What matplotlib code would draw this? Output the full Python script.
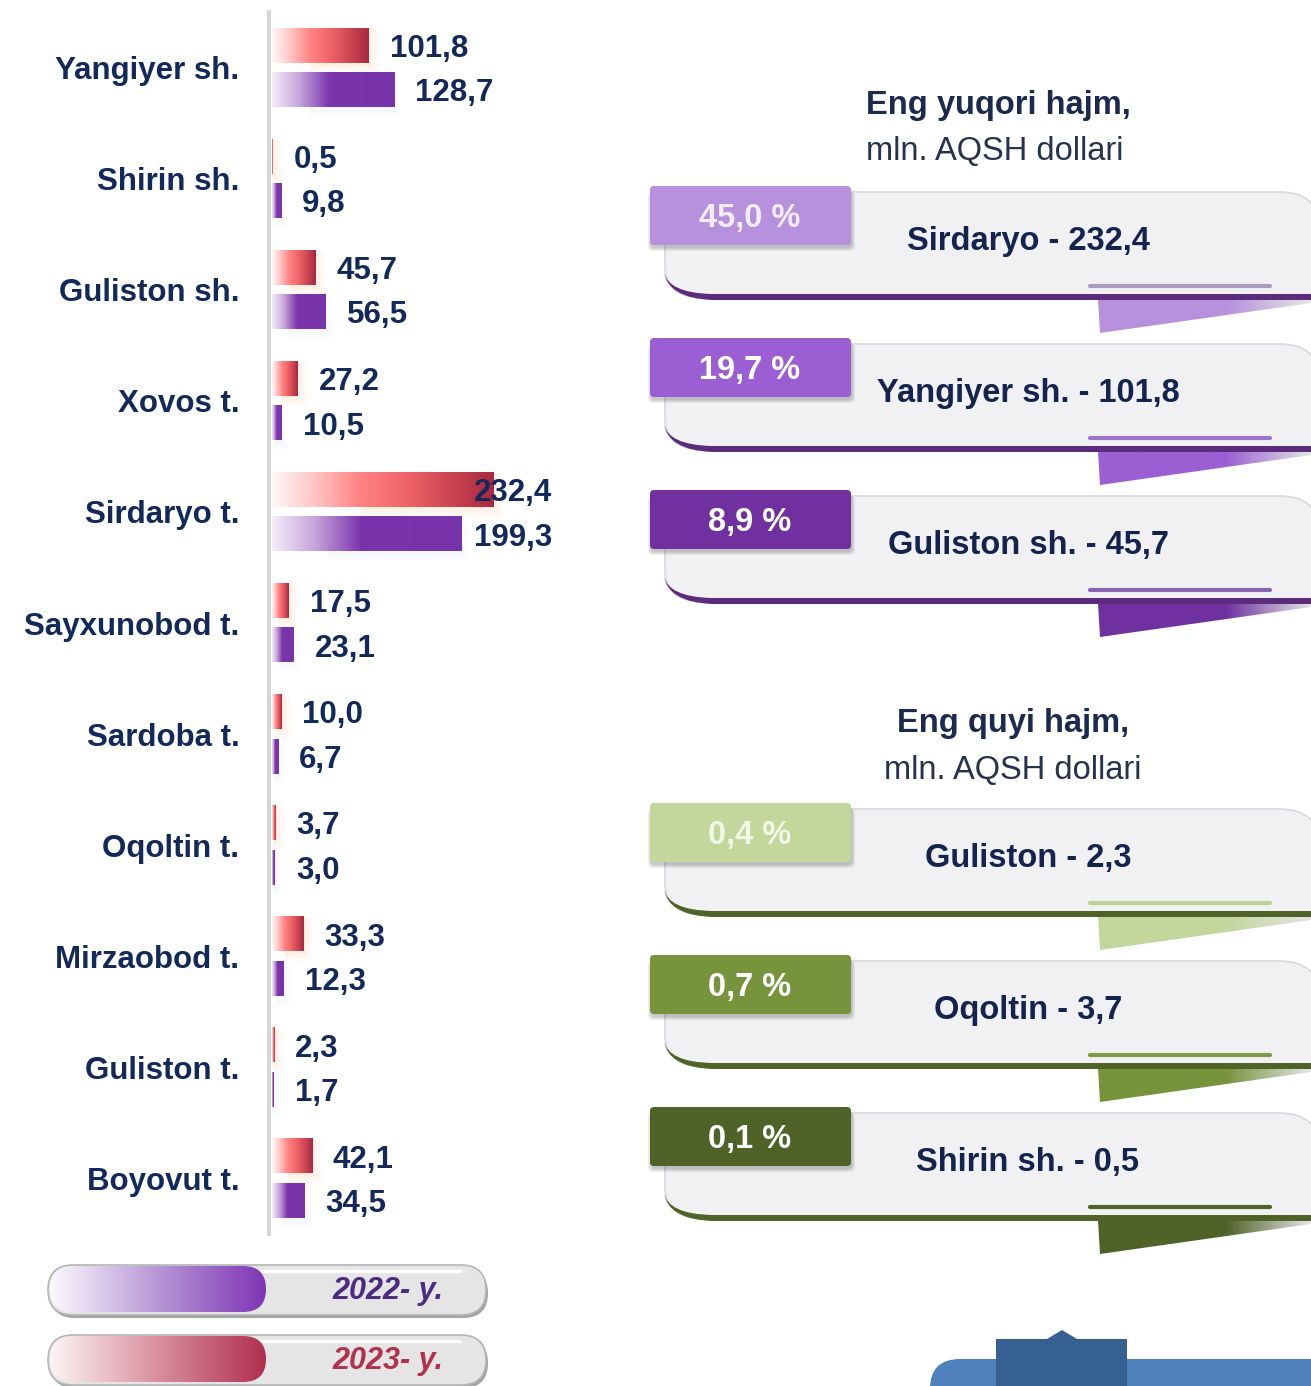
import numpy as np
import matplotlib
matplotlib.use("Agg")
import matplotlib.pyplot as plt
from matplotlib.colors import LinearSegmentedColormap
from matplotlib.patches import FancyBboxPatch, Polygon, PathPatch, Rectangle
from matplotlib.path import Path

plt.rcParams['font.family'] = ['Liberation Sans', 'DejaVu Sans']

# ---- data -------------------------------------------------------------
districts = ["Yangiyer sh.", "Shirin sh.", "Guliston sh.", "Xovos t.", "Sirdaryo t.",
             "Sayxunobod t.", "Sardoba t.", "Oqoltin t.", "Mirzaobod t.",
             "Guliston t.", "Boyovut t."]
vol_2023 = [101.8, 0.5, 45.7, 27.2, 232.4, 17.5, 10.0, 3.7, 33.3, 2.3, 42.1]
vol_2022 = [128.7, 9.8, 56.5, 10.5, 199.3, 23.1, 6.7, 3.0, 12.3, 1.7, 34.5]

top_names = ["Sirdaryo", "Yangiyer sh.", "Guliston sh."]
top_values = [232.4, 101.8, 45.7]
top_shares = [45.0, 19.7, 8.9]

low_names = ["Guliston", "Oqoltin", "Shirin sh."]
low_values = [2.3, 3.7, 0.5]
low_shares = [0.4, 0.7, 0.1]

legend_years = ["2022- y.", "2023- y."]

NAVY = "#13295c"
W, H = 1311, 1386
VA = "center_baseline"


def fmt(v):
    return f"{v:.1f}".replace(".", ",")


fig = plt.figure(figsize=(W / 100, H / 100), dpi=100)
fig.patch.set_facecolor("white")

# background canvas in pixel units for the decorative panels
bg = fig.add_axes([0, 0, 1, 1])
bg.set_xlim(0, W)
bg.set_ylim(H, 0)
bg.axis("off")
bg.set_zorder(0)

# ---- bar chart ----------------------------------------------------------
ax = fig.add_axes([272 / W, 1 - 1234 / H, 350 / W, 1222 / H])
ax.set_zorder(2)
ax.patch.set_visible(False)
for s in ("top", "right", "bottom"):
    ax.spines[s].set_visible(False)
ax.spines["left"].set_color("#d6d6d6")
ax.spines["left"].set_linewidth(3)
ax.spines["left"].set_position(("outward", 2))

red_cmap = LinearSegmentedColormap.from_list(
    "red", [(0, "#fff8f8"), (0.18, "#ffc8c8"), (0.4, "#ff8282"),
            (0.62, "#ee6266"), (1, "#a8283f")])
purple_cmap = LinearSegmentedColormap.from_list(
    "purple", [(0, "#f4ecf8"), (0.22, "#c8a6dc"), (0.47, "#7b34ac"),
               (1, "#7733aa")])

px_x = 350 / 368.0      # pixels per data unit (x)
px_y = 1222 / 11.0      # pixels per row
bar_h = 0.31
grad = np.linspace(0, 1, 256).reshape(1, -1)

for i, (v23, v22) in enumerate(zip(vol_2023, vol_2022)):
    y23, y22 = i - 0.2, i + 0.2
    # soft orange glow trailing the 2023 bar
    for k in range(4):
        p = 2 + 2.5 * k
        ax.add_patch(Rectangle((v23 * 0.4, y23 - bar_h / 2 + 1 / px_y),
                               v23 * 0.6 + p / px_x, bar_h + p / px_y,
                               fc="#ffc08a", ec="none", alpha=0.06, zorder=1))
    # faint shadow below the 2022 bar
    for k in range(3):
        p = 2 + 2 * k
        ax.add_patch(Rectangle((v22 * 0.3, y22 - bar_h / 2 + 3 / px_y),
                               v22 * 0.7 + p / px_x, bar_h + p / px_y,
                               fc="#c9d6ee", ec="none", alpha=0.05, zorder=1))
    ax.imshow(grad, cmap=red_cmap, extent=[0, v23, y23 + bar_h / 2, y23 - bar_h / 2],
              aspect="auto", interpolation="bilinear", zorder=3)
    ax.imshow(grad, cmap=purple_cmap, extent=[0, v22, y22 + bar_h / 2, y22 - bar_h / 2],
              aspect="auto", interpolation="bilinear", zorder=3)
    for v, y in ((v23, y23), (v22, y22)):
        ax.text(min(v + 22, 212), y, fmt(v), ha="left", va=VA,
                fontsize=22.5, fontweight="bold", color=NAVY, zorder=5)

ax.set_xlim(0, 368)
ax.set_ylim(10.5, -0.5)
ax.set_xticks([])
ax.tick_params(axis="y", length=0, pad=21.5)
ax.set_yticks(range(len(districts)), labels=districts, fontsize=22.5,
              fontweight="bold", color=NAVY, va=VA)

# ---- ranking panels -----------------------------------------------------
M, L, C3, CL = Path.MOVETO, Path.LINETO, Path.CURVE3, Path.CLOSEPOLY


def ranking_panel(T, tab_color, line_color, small_color, pct, pct_color, label):
    body = Path([(665, T + 6), (1280, T + 6), (1318, T + 6), (1318, T + 40),
                 (1318, T + 112), (705, T + 112), (665, T + 112), (665, T + 80),
                 (665, T + 6)],
                [M, L, C3, C3, L, L, C3, C3, CL])
    bg.add_patch(PathPatch(body, fc="#f1f1f4", ec="#d8d8dd", lw=1.2, zorder=1))

    # tapering swoosh along the bottom edge
    swoosh = Path([(664, T + 86), (668, T + 107), (712, T + 108), (1320, T + 108),
                   (1320, T + 114), (712, T + 114), (668, T + 112), (664, T + 86)],
                  [M, C3, C3, L, L, L, C3, C3])
    bg.add_patch(PathPatch(swoosh, fc=line_color, ec="none", zorder=3))
    bg.plot([1090, 1270], [T + 100, T + 100], color=small_color, lw=3,
            solid_capstyle="round", zorder=3)

    # folded ribbon end under the panel
    rib = Polygon([(1098, T + 113), (1311, T + 113), (1311, T + 117), (1100, T + 147)],
                  closed=True, fc="none", ec="none")
    bg.add_patch(rib)
    rcm = LinearSegmentedColormap.from_list("rib", [(0, tab_color), (0.6, tab_color),
                                                    (1, "#e4e4e4")])
    im = bg.imshow(grad, cmap=rcm, extent=[1098, 1311, T + 147, T + 113],
                   aspect="auto", interpolation="bilinear", zorder=2)
    im.set_clip_path(rib)

    # tab with soft shadow
    for k in range(4):
        bg.add_patch(FancyBboxPatch((651 - k, T + 3 + k), 201 + 2 * k, 59,
                                    boxstyle="round,pad=0,rounding_size=5",
                                    fc="#555555", ec="none", alpha=0.09, zorder=4))
    bg.add_patch(FancyBboxPatch((650, T), 201, 59,
                                boxstyle="round,pad=0,rounding_size=4",
                                fc=tab_color, ec="none", zorder=5))
    bg.text(750, T + 29, pct, ha="center", va=VA, fontsize=23.5,
            fontweight="bold", color=pct_color, zorder=6)
    bg.text(1028, T + 52, label, ha="center", va=VA, fontsize=23.5,
            fontweight="bold", color="#14244f", zorder=6)


HEAD = "#1c2a50"
bg.text(998, 102, "Eng yuqori hajm,", ha="center", va=VA, fontsize=23.5,
        fontweight="bold", color=HEAD)
bg.text(995, 148, "mln. AQSH dollari", ha="center", va=VA, fontsize=23.5,
        color="#28324e")
bg.text(1013, 720, "Eng quyi hajm,", ha="center", va=VA, fontsize=23.5,
        fontweight="bold", color=HEAD)
bg.text(1013, 767, "mln. AQSH dollari", ha="center", va=VA, fontsize=23.5,
        color="#28324e")

top_tabs = ["#b790de", "#9b5fd3", "#7030a0"]
top_small = ["#a99bc2", "#9c74c8", "#8a62b0"]
top_pct_col = ["#f3ecfa", "white", "white"]
for k, T in enumerate([186, 338, 490]):
    ranking_panel(T, top_tabs[k], "#5b2c7c", top_small[k],
                  fmt(top_shares[k]) + " %", top_pct_col[k],
                  f"{top_names[k]} - {fmt(top_values[k])}")

low_tabs = ["#c3d69b", "#77933c", "#4f6228"]
low_small = ["#bdd195", "#7f9a48", "#4f6228"]
low_pct_col = ["#f2f7e8", "white", "white"]
for k, T in enumerate([803, 955, 1107]):
    ranking_panel(T, low_tabs[k], "#4f6228", low_small[k],
                  fmt(low_shares[k]) + " %", low_pct_col[k],
                  f"{low_names[k]} - {fmt(low_values[k])}")

# ---- legend pills -------------------------------------------------------
leg_cmaps = [
    LinearSegmentedColormap.from_list("l22", [(0, "#fcf9fd"), (0.5, "#b796d6"), (1, "#7f35b5")]),
    LinearSegmentedColormap.from_list("l23", [(0, "#fcf4f5"), (0.5, "#d98e9e"), (1, "#b0304f")]),
]
leg_text_col = ["#4b2a80", "#b3304f"]
for k, (yr, y0) in enumerate(zip(legend_years, [1265, 1335])):
    bg.add_patch(FancyBboxPatch((50, y0 + 3), 438, 50,
                                boxstyle="round,pad=0,rounding_size=25",
                                fc="#8c8c8c", ec="none", alpha=0.8, zorder=1))
    bg.add_patch(FancyBboxPatch((48, y0), 438, 50,
                                boxstyle="round,pad=0,rounding_size=25",
                                fc="#e5e5e5", ec="#b5b5b5", lw=1.2, zorder=2))
    bg.plot([75, 460], [y0 + 6, y0 + 6], color="white", lw=2.5, alpha=0.9,
            solid_capstyle="round", zorder=2)
    pill = FancyBboxPatch((50, y0 + 1), 216, 46,
                          boxstyle="round,pad=0,rounding_size=23",
                          fc="none", ec="none", zorder=3)
    bg.add_patch(pill)
    im = bg.imshow(grad, cmap=leg_cmaps[k], extent=[50, 266, y0 + 47, y0 + 1],
                   aspect="auto", interpolation="bilinear", zorder=3)
    im.set_clip_path(pill)
    bg.text(388, y0 + 22, yr, ha="center", va=VA, fontsize=22,
            fontweight="bold", fontstyle="italic", color=leg_text_col[k], zorder=4)

# ---- footer shapes ------------------------------------------------------
bg.add_patch(FancyBboxPatch((930, 1359), 440, 60,
                            boxstyle="round,pad=0,rounding_size=30",
                            fc="#4f81bd", ec="none", zorder=1))
bg.add_patch(Polygon([(996, 1395), (996, 1339), (1047, 1339), (1062, 1330),
                      (1077, 1339), (1127, 1339), (1127, 1395)],
                     closed=True, fc="#376092", ec="none", zorder=2))

bg.set_xlim(0, W)
bg.set_ylim(H, 0)

fig.savefig("out.png", dpi=100, facecolor="white")
